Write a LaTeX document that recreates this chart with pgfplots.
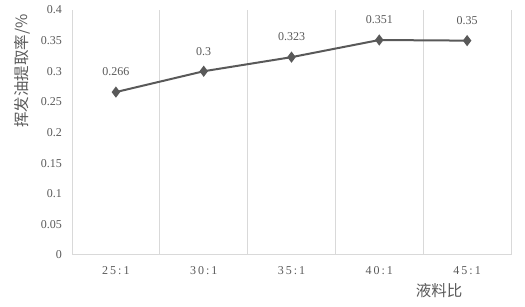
\documentclass[border=0pt]{standalone}
\usepackage{pgfplots}
\pgfplotsset{compat=1.18}
\usepackage{fontspec}
\setmainfont{Liberation Serif}
\newfontfamily\cjk{Noto Sans CJK SC}
\definecolor{txt}{HTML}{595959}
\definecolor{grd}{HTML}{D9D9D9}
\definecolor{ln}{HTML}{595959}
\begin{document}
\begin{tikzpicture}[x=1bp,y=1bp]
\begin{axis}[
  at={(72bp,52bp)}, anchor=south west,
  scale only axis, width=439bp, height=245bp,
  xmin=-0.5, xmax=4.5, ymin=0, ymax=0.4,
  xtick={0,1,2,3,4},
  xticklabels={2\,5\,:\,1,3\,0\,:\,1,3\,5\,:\,1,4\,0\,:\,1,4\,5\,:\,1},
  minor xtick={-0.5,0.5,1.5,2.5,3.5,4.5},
  xminorgrids,
  minor grid style={grd, line width=1bp},
  ytick={0,0.05,0.1,0.15,0.2,0.25,0.3,0.35,0.4},
  yticklabels={0,0.05,0.1,0.15,0.2,0.25,0.3,0.35,0.4},
  axis x line*=bottom, axis y line*=left,
  axis line style={-, grd, line width=1bp},
  major tick length=0pt, minor tick length=0pt,
  tick style={draw=none},
  yticklabel style={font=\fontsize{12bp}{14bp}\selectfont, text=txt, inner sep=0pt, anchor=east, xshift=-10bp},
  xticklabel style={font=\fontsize{12bp}{14bp}\selectfont, text=txt, inner sep=0pt, anchor=north, yshift=-11bp},
  clip=false,
]
\addplot[ln, line width=2bp, mark=diamond*, mark size=4bp, mark options={fill=ln, draw=ln},
  point meta=explicit symbolic,
  nodes near coords,
  nodes near coords style={font=\fontsize{12bp}{14bp}\selectfont, text=txt, anchor=south, inner sep=0pt, yshift=15bp}]
  coordinates {(0,0.266) [0.266] (1,0.3) [0.3] (2,0.323) [0.323] (3,0.351) [0.351] (4,0.35) [0.35]};
\end{axis}
\node[rotate=90, text=txt, font=\cjk\fontsize{15.5bp}{17bp}\selectfont] at (22bp,236bp) {挥发油提取率/\%};
\node[text=txt, font=\cjk\fontsize{15.5bp}{17bp}\selectfont] at (439bp,16bp) {液料比};
\pgfresetboundingbox
\path[use as bounding box] (0,0) rectangle (525bp,307bp);
\end{tikzpicture}
\end{document}
